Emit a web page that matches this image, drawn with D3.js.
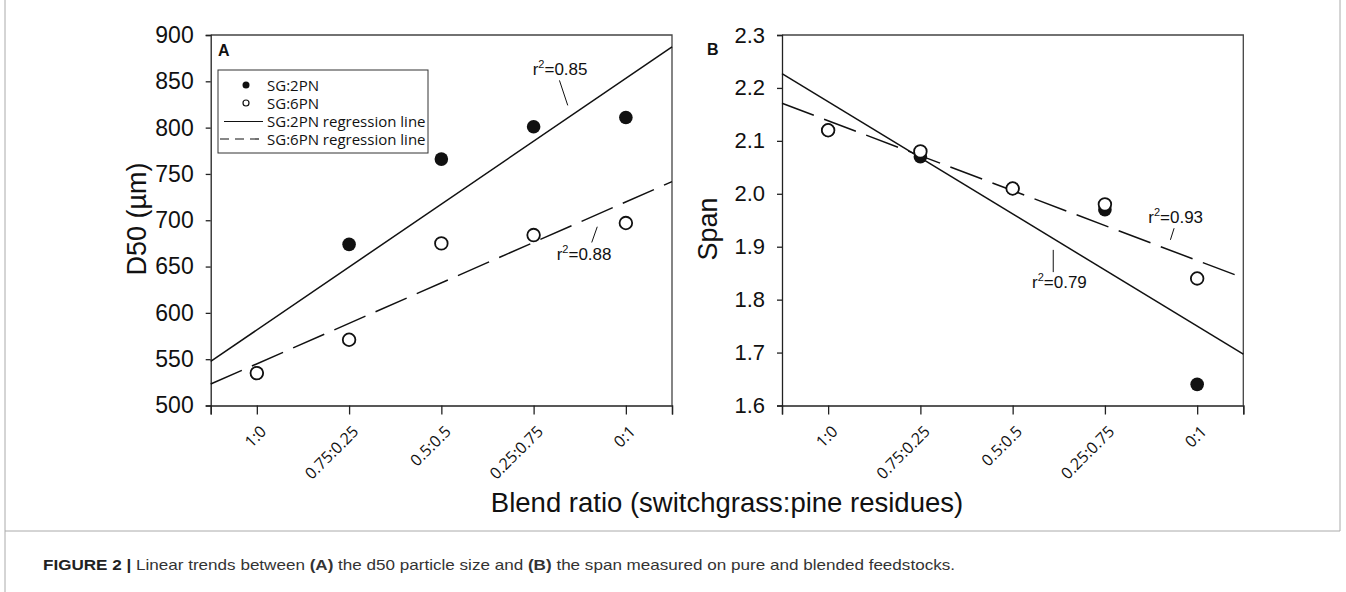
<!DOCTYPE html>
<html><head><meta charset="utf-8">
<script src="https://cdn.jsdelivr.net/npm/d3@7"></script>
<style>body{margin:0;background:#fff;} svg{display:block;}</style>
</head><body><svg id="c" width="1346" height="592"></svg>
<script>
// ---------- data ----------
const categories = ["1:0", "0.75:0.25", "0.5:0.5", "0.25:0.75", "0:1"];
const d50_SG2PN = [535, 674, 766, 801, 811];
const d50_SG6PN = [535, 571, 675, 684, 697];
const span_SG2PN = [2.12, 2.07, 2.01, 1.97, 1.64];
const span_SG6PN = [2.12, 2.08, 2.01, 1.98, 1.84];
const d50Ticks = [500, 550, 600, 650, 700, 750, 800, 850, 900];
const spanTicks = [1.6, 1.7, 1.8, 1.9, 2.0, 2.1, 2.2, 2.3];
const seriesNames = ["SG:2PN", "SG:6PN", "SG:2PN regression line", "SG:6PN regression line"];
const r2A = ["0.85", "0.88"];
const r2B = ["0.79", "0.93"];

const svg = d3.select("#c");
const FONT = "'Liberation Sans', Arial, sans-serif";
const LFONT = "'Open Sans', sans-serif";

// figure frame
svg.append("line").attr("x1", 5).attr("y1", 0).attr("x2", 5).attr("y2", 592).attr("stroke", "#aaa");
svg.append("line").attr("x1", 5).attr("y1", 531).attr("x2", 1340).attr("y2", 531).attr("stroke", "#aaa");
svg.append("line").attr("x1", 1340).attr("y1", 0).attr("x2", 1340).attr("y2", 531).attr("stroke", "#aaa");

function regression(ys) {
  const xs = ys.map((_, i) => i);
  const mx = d3.mean(xs), my = d3.mean(ys);
  const b = d3.sum(xs, (x, i) => (x - mx) * (ys[i] - my)) / d3.sum(xs, x => (x - mx) ** 2);
  return x => my + b * (x - mx);
}

function panel(o) {
  const x = d3.scaleLinear().domain([-0.5, 4.5]).range([o.left, o.right]);
  const y = d3.scaleLinear().domain(o.yDomain).range([o.bottom, o.top]);
  const g = svg.append("g");

  // top & right border
  g.append("path").attr("d", `M${o.left},${o.top}H${o.right}V${o.bottom}`)
    .attr("fill", "none").attr("stroke", "#444").attr("stroke-width", 1.3);

  // y axis
  const ya = g.append("g").attr("transform", `translate(${o.left},0)`)
    .call(d3.axisLeft(y).tickValues(o.yTicks).tickSize(5).tickPadding(12).tickFormat(o.fmt));
  ya.select(".domain").attr("stroke", "#222").attr("stroke-width", 1.3);
  ya.selectAll(".tick line").attr("stroke", "#222").attr("stroke-width", 1.3);
  ya.selectAll("text").attr("font-family", FONT).attr("font-size", o.tickFs).attr("fill", "#111");

  // x axis
  const xa = g.append("g").attr("transform", `translate(0,${o.bottom})`)
    .call(d3.axisBottom(x).tickValues([-0.5, 0, 1, 2, 3, 4, 4.5]).tickSize(9)
      .tickFormat(d => Number.isInteger(d) ? categories[d] : ""));
  xa.select(".domain").attr("stroke", "#222").attr("stroke-width", 1.3);
  xa.selectAll(".tick line").attr("stroke", "#222").attr("stroke-width", 1.3);
  xa.selectAll("text").attr("font-family", LFONT).attr("font-size", 16).attr("fill", "#111")
    .attr("text-anchor", "end").attr("x", 0).attr("y", 0).attr("dy", 0)
    .attr("transform", "translate(10,27) rotate(-45)");

  // regression lines
  const f1 = regression(o.s1), f2 = regression(o.s2);
  const dom = x.domain();
  g.append("line").attr("x1", x(dom[0])).attr("y1", y(f1(dom[0]))).attr("x2", x(dom[1])).attr("y2", y(f1(dom[1])))
    .attr("stroke", "#111").attr("stroke-width", 1.5);
  g.append("line").attr("x1", x(dom[0])).attr("y1", y(f2(dom[0]))).attr("x2", x(dom[1])).attr("y2", y(f2(dom[1])))
    .attr("stroke", "#111").attr("stroke-width", 1.5).attr("stroke-dasharray", "34,11");

  // points
  g.selectAll(".f").data(o.s1).join("circle").attr("cx", (d, i) => x(i)).attr("cy", d => y(d))
    .attr("r", 6.8).attr("fill", "#111");
  g.selectAll(".o").data(o.s2).join("circle").attr("cx", (d, i) => x(i)).attr("cy", d => y(d))
    .attr("r", 6.3).attr("fill", "#fff").attr("stroke", "#111").attr("stroke-width", 1.8);

  // annotations
  o.ann.forEach(a => {
    const t = g.append("text").attr("x", x(a.tx)).attr("y", y(a.ty))
      .attr("font-family", FONT).attr("font-size", 17).attr("fill", "#111");
    t.append("tspan").text("r");
    t.append("tspan").text("2").attr("font-size", 11).attr("dy", -7);
    t.append("tspan").text("=" + a.r2).attr("dy", 7);
    g.append("line").attr("x1", x(a.l[0][0])).attr("y1", y(a.l[0][1]))
      .attr("x2", x(a.l[1][0])).attr("y2", y(a.l[1][1])).attr("stroke", "#111").attr("stroke-width", 1);
  });

  // panel letter
  g.append("text").attr("x", o.letterX).attr("y", o.letterY).text(o.letter)
    .attr("font-family", FONT).attr("font-weight", "bold").attr("font-size", 16).attr("fill", "#111");

  // y title
  g.append("text").attr("transform", `translate(${o.titleX},${o.titleY}) rotate(-90)`)
    .attr("text-anchor", "middle").attr("font-family", FONT).attr("font-size", 27).attr("fill", "#111")
    .text(o.title);
  return {x, y, g};
}

const A = panel({
  left: 210.7, right: 672, top: 35, bottom: 405.5,
  yDomain: [500, 900], yTicks: d50Ticks, fmt: d3.format("d"), tickFs: 23,
  s1: d50_SG2PN, s2: d50_SG6PN,
  ann: [
    {r2: r2A[0], tx: 2.99, ty: 857, l: [[3.28, 851], [3.37, 824]]},
    {r2: r2A[1], tx: 3.25, ty: 657, l: [[3.69, 693], [3.63, 676]]}
  ],
  letter: "A", letterX: 218, letterY: 56,
  title: "D50 (µm)", titleX: 146, titleY: 219
});

const B = panel({
  left: 782, right: 1243.3, top: 35, bottom: 405.5,
  yDomain: [1.6, 2.3], yTicks: spanTicks, fmt: d3.format(".1f"), tickFs: 22,
  s1: span_SG2PN, s2: span_SG6PN,
  ann: [
    {r2: r2B[0], tx: 2.21, ty: 1.822, l: [[2.44, 1.894], [2.44, 1.852]]},
    {r2: r2B[1], tx: 3.47, ty: 1.945, l: [[3.75, 1.935], [3.71, 1.913]]}
  ],
  letter: "B", letterX: 707, letterY: 55,
  title: "Span", titleX: 717, titleY: 229
});

// legend in panel A
const lg = svg.append("g").attr("transform", "translate(218,70)");
lg.append("rect").attr("width", 210).attr("height", 83).attr("fill", "#fff").attr("stroke", "#333").attr("stroke-width", 1);
const rowY = [15, 33, 51.5, 69];
lg.append("circle").attr("cx", 28).attr("cy", rowY[0]).attr("r", 3.5).attr("fill", "#111");
lg.append("circle").attr("cx", 28).attr("cy", rowY[1]).attr("r", 3).attr("fill", "#fff").attr("stroke", "#111").attr("stroke-width", 1.2);
lg.append("line").attr("x1", 6).attr("x2", 45).attr("y1", rowY[2]).attr("y2", rowY[2]).attr("stroke", "#111").attr("stroke-width", 1.2);
lg.append("line").attr("x1", 2).attr("x2", 45).attr("y1", rowY[3]).attr("y2", rowY[3]).attr("stroke", "#111").attr("stroke-width", 1.2).attr("stroke-dasharray", "9,6");
lg.selectAll("text.l").data(seriesNames).join("text").attr("x", 49).attr("y", (d, i) => rowY[i] + 5.5)
  .attr("font-family", LFONT).attr("font-size", 15).attr("fill", "#111").text(d => d);

// x title
svg.append("text").attr("x", 727).attr("y", 512).attr("text-anchor", "middle")
  .attr("font-family", FONT).attr("font-size", 27.5).attr("fill", "#111")
  .text("Blend ratio (switchgrass:pine residues)");

// caption
const cap = svg.append("text").attr("x", 43).attr("y", 570)
  .attr("font-family", "'Liberation Sans Narrow', 'Liberation Sans', Arial, sans-serif")
  .attr("font-size", 15).attr("fill", "#333")
  .attr("textLength", 912).attr("lengthAdjust", "spacingAndGlyphs");
cap.append("tspan").attr("font-weight", "bold").attr("fill", "#222").text("FIGURE 2 | ");
cap.append("tspan").text("Linear trends between ");
cap.append("tspan").attr("font-weight", "bold").text("(A)");
cap.append("tspan").text(" the d50 particle size and ");
cap.append("tspan").attr("font-weight", "bold").text("(B)");
cap.append("tspan").text(" the span measured on pure and blended feedstocks.");
</script></body></html>
